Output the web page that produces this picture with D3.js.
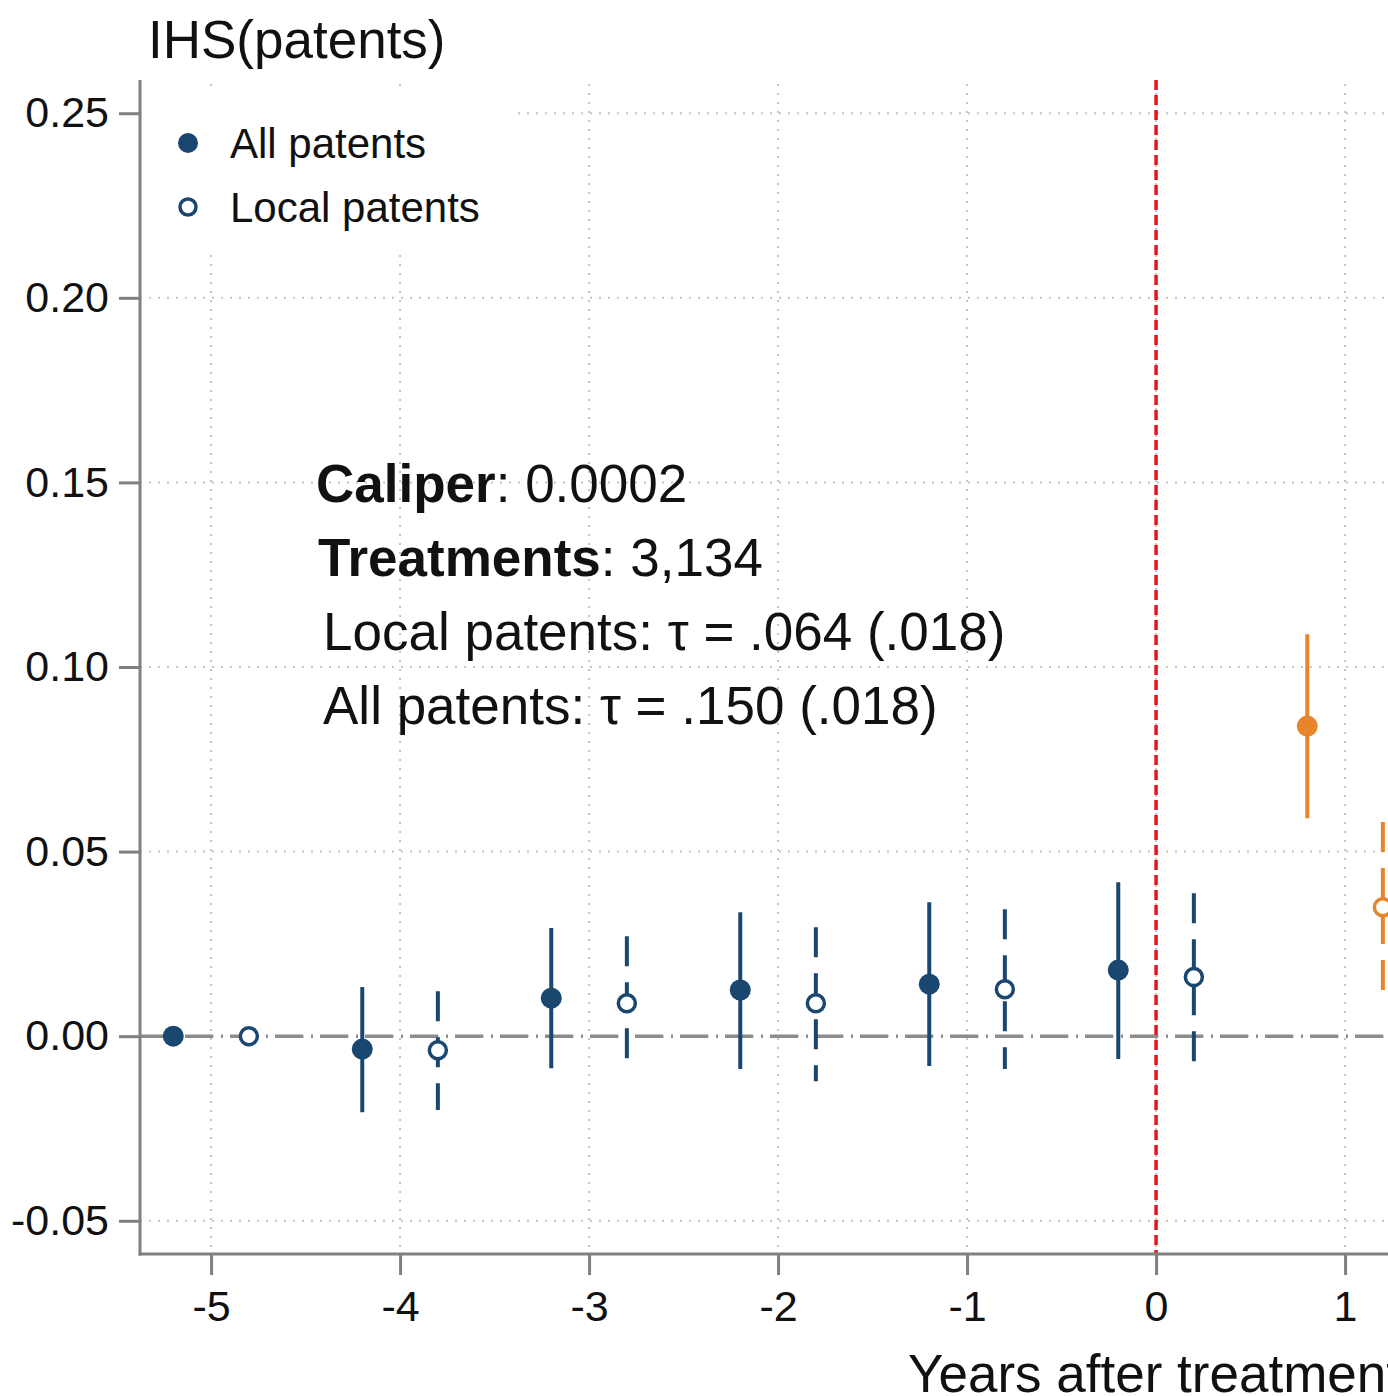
<!DOCTYPE html>
<html>
<head>
<meta charset="utf-8">
<script src="https://cdn.jsdelivr.net/npm/d3@7"></script>
<style>
  body { margin: 0; background: #fff; }
  svg { display: block; font-family: "Liberation Sans", Arial, sans-serif; }
</style>
</head>
<body>
<script>
// event study estimates
var years = [-5, -4, -3, -2, -1, 0, 1];
var allEst = [0, -0.0035, 0.0103, 0.0125, 0.0141, 0.0179, 0.084];
var allLo = [null, -0.0206, -0.0087, -0.0089, -0.0081, -0.0062, 0.059];
var allHi = [null, 0.0133, 0.0293, 0.0336, 0.0363, 0.0417, 0.1089];
var localEst = [0, -0.0038, 0.0089, 0.0089, 0.0127, 0.016, 0.0349];
var localLo = [null, -0.0200, -0.006, -0.0122, -0.0089, -0.0068, 0.0125];
var localHi = [null, 0.0122, 0.0271, 0.0295, 0.0344, 0.0387, 0.058];

var yTicks = [-0.05, 0, 0.05, 0.10, 0.15, 0.20, 0.25];
var xTicks = [-5, -4, -3, -2, -1, 0, 1];
var seriesNames = ["All patents", "Local patents"];
var notes = ["Caliper", "0.0002", "Treatments", "3,134"];
var tauLines = ["Local patents: \u03c4 = .064 (.018)", "All patents: \u03c4 = .150 (.018)"];

var w = 1388, h = 1396;
var mLeft = 140, mTop = 80, mBottom = 1254;

var navy = "#1a476f", orange = "#e8852b";
var pre = function(t) { return t < 1 ? navy : orange; };

var svg = d3.select("body").append("svg")
    .attr("width", w)
    .attr("height", h);

svg.append("rect").attr("width", w).attr("height", h).attr("fill", "#fff");

var x = d3.scaleLinear().domain([-5.376, 1.5]).range([mLeft, mLeft + 6.876 * 189]);
var y = d3.scaleLinear().domain([-0.059, 0.259]).range([mBottom, mTop]);

// grid
svg.append("g").selectAll("line")
    .data(yTicks)
    .enter()
    .append("line")
    .attr("x1", mLeft).attr("x2", w)
    .attr("y1", function(d) { return y(d); })
    .attr("y2", function(d) { return y(d); })
    .attr("stroke", "#c4c4c4")
    .attr("stroke-width", 2)
    .attr("stroke-dasharray", "2,7");

svg.append("g").selectAll("line")
    .data(xTicks)
    .enter()
    .append("line")
    .attr("x1", function(d) { return x(d); })
    .attr("x2", function(d) { return x(d); })
    .attr("y1", mTop + 4).attr("y2", mBottom)
    .attr("stroke", "#c4c4c4")
    .attr("stroke-width", 2)
    .attr("stroke-dasharray", "2,7");

// zero line
svg.append("line")
    .attr("x1", mLeft).attr("x2", w)
    .attr("y1", y(0)).attr("y2", y(0))
    .attr("stroke", "#8c8c8c")
    .attr("stroke-width", 3.5)
    .attr("stroke-dasharray", "28,8,2,7");

// treatment line
svg.append("line")
    .attr("x1", x(0)).attr("x2", x(0))
    .attr("y1", mTop).attr("y2", mBottom)
    .attr("stroke", "#e8141c")
    .attr("stroke-width", 3.5)
    .attr("stroke-dasharray", "10,5");

// axes
var fmtY = function(d) { return d.toFixed(2); };
var yAxis = svg.append("g")
    .attr("transform", "translate(" + mLeft + ",0)")
    .call(d3.axisLeft(y).tickValues(yTicks).tickFormat(fmtY).tickSize(21).tickPadding(10));
var xAxis = svg.append("g")
    .attr("transform", "translate(0," + mBottom + ")")
    .call(d3.axisBottom(x).tickValues(xTicks).tickFormat(function(d) { return String(d); }).tickSize(21).tickPadding(15));

[yAxis, xAxis].forEach(function(a) {
    a.select(".domain").remove();
    a.selectAll(".tick line").attr("stroke", "#808080").attr("stroke-width", 3);
    a.selectAll(".tick text").attr("fill", "#111").attr("font-size", "43px");
});

svg.append("line")
    .attr("x1", mLeft).attr("x2", mLeft)
    .attr("y1", mTop).attr("y2", mBottom + 1.5)
    .attr("stroke", "#808080").attr("stroke-width", 3);
svg.append("line")
    .attr("x1", mLeft - 1.5).attr("x2", w)
    .attr("y1", mBottom).attr("y2", mBottom)
    .attr("stroke", "#808080").attr("stroke-width", 3);

// confidence intervals
var idx = d3.range(years.length).filter(function(i) { return allLo[i] !== null; });

svg.append("g").selectAll("line")
    .data(idx)
    .enter()
    .append("line")
    .attr("x1", function(i) { return x(years[i] - 0.2); })
    .attr("x2", function(i) { return x(years[i] - 0.2); })
    .attr("y1", function(i) { return y(allHi[i]); })
    .attr("y2", function(i) { return y(allLo[i]); })
    .attr("stroke", function(i) { return pre(years[i]); })
    .attr("stroke-width", 4);

svg.append("g").selectAll("line")
    .data(idx)
    .enter()
    .append("line")
    .attr("x1", function(i) { return x(years[i] + 0.2); })
    .attr("x2", function(i) { return x(years[i] + 0.2); })
    .attr("y1", function(i) { return y(localHi[i]); })
    .attr("y2", function(i) { return y(localLo[i]); })
    .attr("stroke", function(i) { return pre(years[i]); })
    .attr("stroke-width", 4)
    .attr("stroke-dasharray", "30,16");

// point estimates
svg.append("g").selectAll("circle")
    .data(years)
    .enter()
    .append("circle")
    .attr("cx", function(d) { return x(d - 0.2); })
    .attr("cy", function(d, i) { return y(allEst[i]); })
    .attr("r", 10.5)
    .attr("fill", function(d) { return pre(d); });

svg.append("g").selectAll("circle")
    .data(years)
    .enter()
    .append("circle")
    .attr("cx", function(d) { return x(d + 0.2); })
    .attr("cy", function(d, i) { return y(localEst[i]); })
    .attr("r", 8.5)
    .attr("fill", "#fff")
    .attr("stroke", function(d) { return pre(d); })
    .attr("stroke-width", 3.5);

// legend
svg.append("rect")
    .attr("x", mLeft + 3).attr("y", 90)
    .attr("width", 372).attr("height", 165)
    .attr("fill", "#fff");

svg.append("circle").attr("cx", 188).attr("cy", 143).attr("r", 10).attr("fill", navy);
svg.append("circle").attr("cx", 188).attr("cy", 207).attr("r", 8)
    .attr("fill", "#fff").attr("stroke", navy).attr("stroke-width", 3.5);

svg.selectAll("text.leg")
    .data(seriesNames)
    .enter()
    .append("text")
    .attr("class", "leg")
    .attr("x", 230)
    .attr("y", function(d, i) { return 158 + i * 64; })
    .attr("font-size", "42px")
    .attr("fill", "#111")
    .text(function(d) { return d; });

// annotations
var t1 = svg.append("text").attr("x", 316).attr("y", 502).attr("font-size", "53px").attr("fill", "#111");
t1.append("tspan").attr("font-weight", "bold").text(notes[0]);
t1.append("tspan").text(": " + notes[1]);
var t2 = svg.append("text").attr("x", 318).attr("y", 576).attr("font-size", "53px").attr("fill", "#111");
t2.append("tspan").attr("font-weight", "bold").text(notes[2]);
t2.append("tspan").text(": " + notes[3]);

svg.selectAll("text.tau")
    .data(tauLines)
    .enter()
    .append("text")
    .attr("class", "tau")
    .attr("x", 323)
    .attr("y", function(d, i) { return 650 + i * 74; })
    .attr("font-size", "53px")
    .attr("fill", "#111")
    .text(function(d) { return d; });

// titles
svg.append("text")
    .attr("x", 148).attr("y", 58)
    .attr("font-size", "53px")
    .attr("fill", "#111")
    .text("IHS(patents)");

svg.append("text")
    .attr("x", 908).attr("y", 1392)
    .attr("font-size", "53px")
    .attr("fill", "#111")
    .text("Years after treatment");
</script>
</body>
</html>
